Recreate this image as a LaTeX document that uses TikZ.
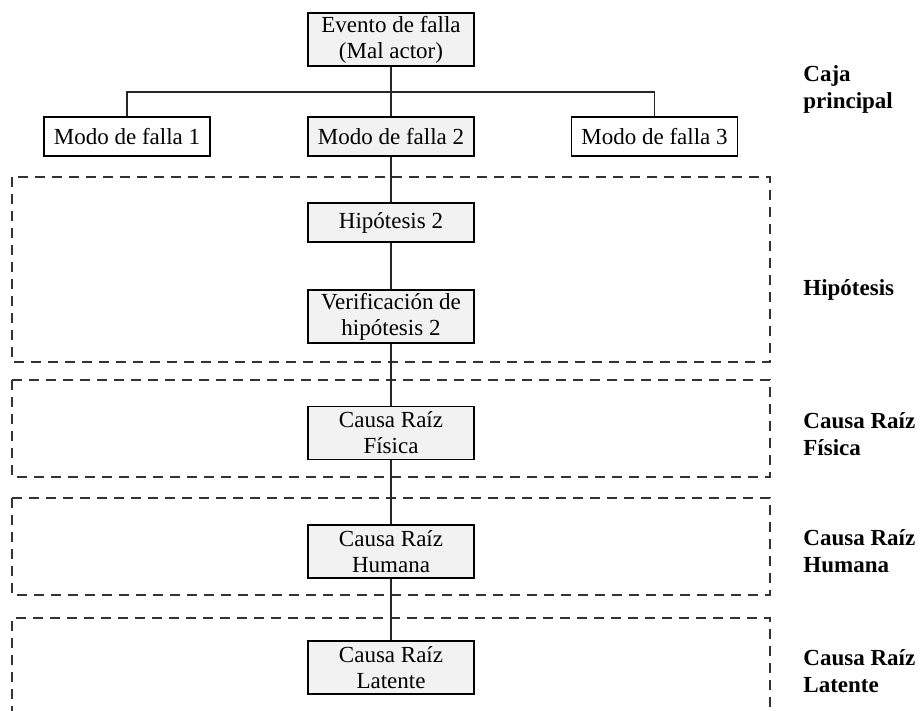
\documentclass[tikz,border=0pt]{standalone}
\usepackage{fontspec}
\setmainfont{Liberation Serif}
\definecolor{boxfill}{HTML}{F2F2F2}
\definecolor{dashcol}{HTML}{333333}
\tikzset{
  boxw/.style={draw=black, line width=0.65pt, fill=white, minimum width=83pt, inner sep=0pt, align=center,
    font=\fontsize{11.5}{13}\selectfont},
  boxg/.style={boxw, fill=boxfill},
  onel/.style={minimum height=19.5pt},
  twol/.style={minimum height=26.5pt},
  conn/.style={draw=black!85, line width=0.65pt},
  zone/.style={draw=dashcol, line width=0.55pt, dash pattern=on 5pt off 3.5pt},
  lbl/.style={anchor=base west, inner sep=0pt, align=left, font=\fontsize{11.5}{13.5}\selectfont\bfseries}
}
\begin{document}
\begin{tikzpicture}[x=0.5pt,y=-0.5pt]
\useasboundingbox (0,0) rectangle (920,711);
% dashed zones
\draw[zone] (12,177) rectangle (770,362);
\draw[zone] (12,380) rectangle (770,477);
\draw[zone] (12,498) rectangle (770,595);
\draw[zone] (12,716) -- (12,618) -- (770,618) -- (770,716);
% nodes
\node[boxg, twol] (ev) at (391,39.5) {Evento de falla\\(Mal actor)};
\node[boxw, onel] (m1) at (127,136.5) {Modo de falla 1};
\node[boxg, onel] (m2) at (391,136.5) {Modo de falla 2};
\node[boxw, onel] (m3) at (654.5,136.5) {Modo de falla 3};
\node[boxg, onel] (h2) at (391,222.5) {Hipótesis 2};
\node[boxg, twol] (ver) at (391,316.5) {Verificación de\\hipótesis 2};
\node[boxg, twol] (fis) at (391,433) {Causa Raíz\\Física};
\node[boxg, twol] (hum) at (391,551.5) {Causa Raíz\\Humana};
\node[boxg, twol] (lat) at (391,667.5) {Causa Raíz\\Latente};
% connectors
\coordinate (bar) at (391,92);
\draw[conn] (ev) -- (m2);
\draw[conn] (m1.north) |- (bar) -| (m3.north);
\draw[conn] (m2) -- (h2);
\draw[conn] (h2) -- (ver);
\draw[conn] (ver) -- (fis);
\draw[conn] (fis) -- (hum);
\draw[conn] (hum) -- (lat);
% labels (base anchor = last line baseline)
\node[lbl] (l1) at (803,109) {Caja\\principal};
\node[lbl] (l2) at (803,295) {Hipótesis};
\node[lbl] (l3) at (803,455) {Causa Raíz\\Física};
\node[lbl] (l4) at (803,572) {Causa Raíz\\Humana};
\node[lbl] (l5) at (803,692) {Causa Raíz\\Latente};
\end{tikzpicture}
\end{document}
